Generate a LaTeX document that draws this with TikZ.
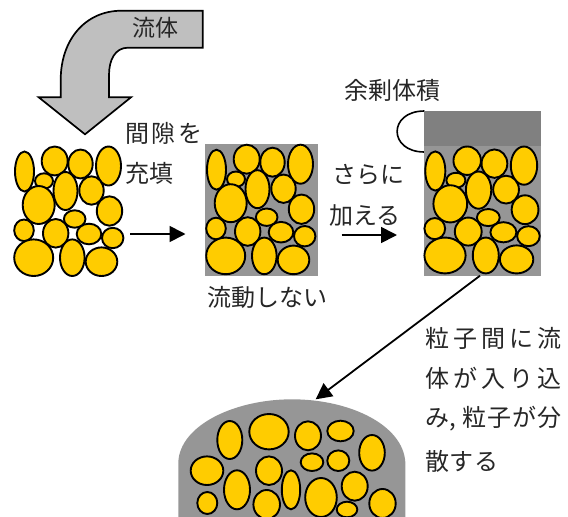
\documentclass[tikz,border=0pt]{standalone}
\usepackage{fontspec}
\setmainfont{Noto Sans CJK JP}
\usetikzlibrary{arrows.meta}
\definecolor{grainGold}{HTML}{FFCC00}
\definecolor{fluidGray}{HTML}{969696}
\definecolor{excessGray}{HTML}{808080}
\definecolor{flowGray}{HTML}{BFBFBF}
\tikzset{
  grain diagram/.style={
    x=1pt,y=-1pt,line width=1.6pt,
    >={Triangle[length=16pt,width=16pt]},
    every node/.style={inner sep=0pt,outer sep=0pt}
  },
  grain/.style={draw=black,fill=grainGold,line width=1.9pt},
  step arrow/.style={->,line width=1.8pt,draw=black},
  note/.style={anchor=west,font=\fontsize{24}{28}\selectfont,text=black!85},
  snug note/.style={note,font=\fontsize{24}{28}\selectfont\addfontfeature{LetterSpace=4}},
  wide note/.style={note,font=\fontsize{24}{28}\selectfont\addfontfeature{LetterSpace=17}}
}
\newcommand{\GrainPack}{%
  \foreach \grainX/\grainY/\grainA/\grainB in {
    24.5/171.5/9.5/20, 54.7/161/13/14.5, 80.5/164/12.2/14.5, 108.5/166/12.5/19.5,
    44/181/9/7.7, 65.5/191/12/19, 91.5/190.5/12.2/14.2, 38.7/205/16/19,
    109.5/211/12.7/14.7, 74.7/219/10.8/8.7, 24/230.3/9.8/10.8, 55.7/233.3/12.7/14.3,
    89/234/12.3/10.3, 112.7/238/10.7/10.2, 33.7/257.7/19.5/18.3,
    72.3/257.7/12.3/18.3, 101.5/261.7/15.8/14.3
  } {
    \path[grain] (\grainX,\grainY) ellipse[x radius=\grainA,y radius=\grainB];
  }
}
\begin{document}
\begin{tikzpicture}[grain diagram]
  \useasboundingbox (0,0) rectangle (568,517);
  \clip (0,0) rectangle (568,517);

  \draw[fill=flowGray,line width=1.7pt] (202.7,10.7) -- (202.7,47.7) -- (128,47.7)
    .. controls (115,47.7) and (109,60) .. (109,75) -- (109,97.3) -- (131,97.3)
    -- (85,134.3) -- (38.7,97.3) -- (60.7,97.3) -- (60.7,80)
    .. controls (60.7,40) and (85,10.7) .. (121.7,10.7) -- cycle;
  \node[note,font=\fontsize{23}{27}\selectfont] (flowLabel) at (132,28) {流体};

  \GrainPack
  \coordinate (fillStart) at (130,234);
  \coordinate (fillEnd) at (185.5,234);
  \draw[step arrow] (fillStart) -- (fillEnd);
  \node[snug note,font=\fontsize{24}{28}\selectfont\addfontfeature{LetterSpace=12}] (fillLabelA) at (125,133) {間隙を};
  \node[snug note] (fillLabelB) at (125,173) {充填};

  \fill[fluidGray] (205,144) rectangle (318,275.7);
  \begin{scope}[xshift=192pt,yshift=1.8pt]
    \GrainPack
  \end{scope}
  \node[note] (stillLabel) at (207,297) {流動しない};

  \coordinate (addStart) at (341.7,235);
  \coordinate (addEnd) at (397,235);
  \draw[step arrow] (addStart) -- (addEnd);
  \node[note] (addLabelA) at (332,175) {さらに};
  \node[note] (addLabelB) at (329,216) {加える};

  \draw[line width=1.6pt] (424.5,111) .. controls (388,111) and (388,152) .. (424.5,152);
  \fill[fluidGray] (424,146) rectangle (541,275.7);
  \fill[excessGray] (424,111) rectangle (541,146);
  \begin{scope}[shift={(435.3,171)},xscale=1.056,yscale=.98,shift={(-24.5,-171.5)}]
    \GrainPack
  \end{scope}
  \node[note] (excessLabel) at (344,90) {余剰体積};

  \coordinate (spreadStart) at (480,275.7);
  \coordinate (spreadEnd) at (315.7,399.3);
  \draw[step arrow] (spreadStart) -- (spreadEnd);

  \fill[fluidGray] (178.3,520) -- (178.3,462)
    .. controls (180,425) and (235,399.3) .. (292,399.3)
    .. controls (350,399.3) and (403,425) .. (405.3,462) -- (405.3,520) -- cycle;
  \foreach \grainX/\grainY/\grainA/\grainB in {
    229.8/440/12.5/19, 269/431.7/19.7/17.7, 308/435.8/13/14.5, 340.5/431/13.2/10.3,
    372/452.8/12.8/17.8, 207/470.7/16.3/14.3, 237/489.8/13/19.5, 269/470.7/13/14.3,
    312/462.2/11.3/8.8, 338.3/460.7/11/10.3, 291/489.8/9.2/19.5, 321/497.5/15.8/19.5,
    354.7/486.2/13/14.5, 207.3/503/10/11, 266.7/504.5/13.3/14.5, 347/509.5/10.3/7.8,
    382.5/503.5/13.2/14.5
  } {
    \path[grain] (\grainX,\grainY) ellipse[x radius=\grainA,y radius=\grainB];
  }
  \node[wide note] (spreadLabelA) at (425,338) {粒子間に流};
  \node[wide note] (spreadLabelB) at (425,378) {体が入り込};
  \node[snug note] (spreadLabelC) at (425,419) {み, 粒子が分};
  \node[snug note] (spreadLabelD) at (425,461) {散する};
\end{tikzpicture}
\end{document}
